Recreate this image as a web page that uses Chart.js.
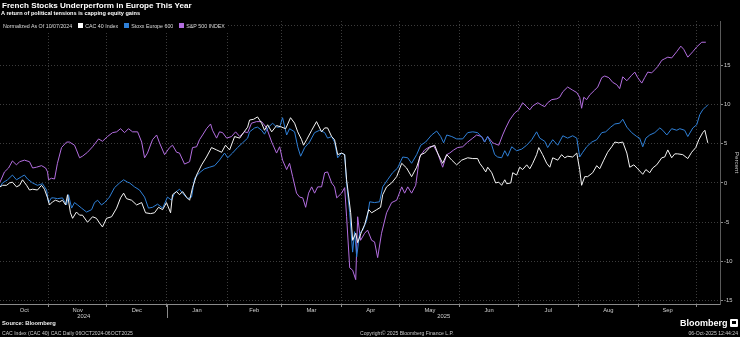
<!DOCTYPE html>
<html>
<head>
<meta charset="utf-8">
<script src="https://cdn.jsdelivr.net/npm/chart.js@4.4.1/dist/chart.umd.min.js"></script>
<style>
  body { margin: 0; background: #000; width: 740px; height: 337px; overflow: hidden; position: relative; color: #fff; font-family: "Liberation Sans", Arial, sans-serif; }
  #box { position: absolute; left: 0; top: 0; width: 740px; height: 337px; }
  .txt { position: absolute; white-space: nowrap; }
  #title { left: 2px; top: 1px; font-weight: bold; font-size: 8.1px; }
  #subtitle { left: 1px; top: 10px; font-weight: bold; font-size: 5.6px; }
  #legend { left: 0; top: 20px; height: 11px; padding: 0 3px; background: #000; font-size: 5.3px; color: #ddd; display: flex; align-items: center; }
  #legend .sw { display: inline-block; width: 5px; height: 5px; margin: 0 2px 0 6px; }
  #source { left: 2px; top: 320px; font-weight: bold; font-size: 5.8px; color: #eee; }
  #ticker { left: 2px; top: 330px; font-size: 5.1px; color: #ccc; }
  #copy { left: 360px; top: 330px; font-size: 5.1px; color: #ccc; }
  #stamp { right: 2px; top: 330px; font-size: 5.1px; color: #ccc; }
  #logo { left: 680px; top: 318px; font-weight: bold; font-size: 9px; }
  #logoMark { position: absolute; left: 730px; top: 319px; width: 8px; height: 8px; background: #fff; border-radius: 1px; }
  #logoMark i { position: absolute; left: 2px; top: 2px; width: 4px; height: 3px; background: #000; }
</style>
</head>
<body>
<div id="box"><canvas id="chartIndices" width="740" height="337"></canvas></div>
<div class="txt" id="title">French Stocks Underperform in Europe This Year</div>
<div class="txt" id="subtitle">A return of political tensions is capping equity gains</div>
<div class="txt" id="legend">
  <span>Normalized As Of 10/07/2024</span>
  <span class="sw" style="background:#ffffff"></span><span>CAC 40 Index</span>
  <span class="sw" style="background:#2f80d8"></span><span>Stoxx Europe 600</span>
  <span class="sw" style="background:#b36ee0"></span><span>S&amp;P 500 INDEX</span>
</div>
<div class="txt" id="source">Source: Bloomberg</div>
<div class="txt" id="ticker">CAC Index (CAC 40) CAC Daily 06OCT2024-06OCT2025</div>
<div class="txt" id="copy">Copyright© 2025 Bloomberg Finance L.P.</div>
<div class="txt" id="logo">Bloomberg</div>
<div id="logoMark"><i></i></div>
<div class="txt" id="stamp">06-Oct-2025 12:44:24</div>
<script>
// Days counted from 07 Oct 2024 (normalization date), values in percent
const cacDays = [0,1.3,3.4,4.9,6.4,8.5,10.1,11.6,13.7,15.2,16.8,19.3,21.4,22.9,24.5,25.5,27.1,28.6,30.7,32.2,33.8,34.8,36.3,37.4,39.4,41,42.5,45.1,47.7,49.7,51.3,52.8,54.9,57.5,60.1,62.1,63.7,65.2,67.8,70.4,73,75,77.6,79.6,81.7,83.8,85.8,87.9,88.9,91,92.5,94.1,96.1,97.7,99.2,101.3,103.9,106.4,109,111.6,114.2,116.2,118.3,120.9,123.5,125.5,127.6,128.6,130.7,132.7,134.8,136.3,137.9,140,142.5,145.1,147.2,149.7,151.8,153.4,155.4,156.4,158,160.6,163.1,165.7,167.3,168.8,170.9,172.4,174,176,177.6,178.6,180.7,181.7,183.3,184.3,186.3,187.9,190,191.5,194.1,196.1,197.2,199.2,201.8,204.4,207,209.5,212.1,214.7,216.8,218.8,221.4,224,225.5,228.1,230.2,232.8,235.3,237.9,241,243.6,246.1,247.2,248.7,250.3,251.3,253.4,255.4,257,258.5,260.1,261.1,263.2,264.2,266.2,267.8,269.3,271.4,273,274.5,276.5,277.6,279.6,281.7,283.3,284.8,287.4,289.4,291,292.5,295.1,297.2,298.7,299.7,301.3,302.8,305.4,307.5,309,311.1,313.1,315.2,316.8,318.8,320.9,323,324.5,326.6,328.6,331.2,332.8,334.8,336.3,338.4,341,342.5,344.1,346.1,347.7,349.2,351.8,354.4,356.4,358.5,360.1,362.1,363.2,364.7];
const cacPct = [-0.5,-0.3,-0.3,0,0.1,-0.5,-0.3,0.4,-0.3,-0.9,-0.8,-0.9,-0.3,-0.8,-1.9,-2.8,-2.4,-2.2,-2.4,-2.2,-2.8,-1.5,-3.8,-4.5,-3.7,-4.1,-4.1,-5,-4.3,-4.5,-5.1,-5.6,-4.5,-4.3,-3.2,-1.9,-1.3,-2,-2.2,-2.8,-2.5,-3.8,-3.9,-3.8,-3.1,-3.4,-2.5,-3.8,-1.5,-1.1,-1.5,-1.1,-1.8,-2.2,-0.6,1,2.3,3.3,4.5,4.2,3.9,4.8,4.2,5.9,5.7,6.4,7.1,8,8.1,8.4,7.6,6.7,7.4,6.5,7.3,7.1,6.9,8.3,7.6,6.5,5.5,4.8,5.5,6.7,7.8,6.5,7,7,5.9,5.5,3.6,3.8,3.6,0.4,-3.8,-7.3,-6.4,-7.6,-6.2,-5.3,-3.4,-3.8,-3.4,-3.1,-1.5,-0.5,0,0.8,2.5,1.9,0.8,2,3.6,3.8,4.5,4.8,3.8,2.5,3.6,2.9,2.3,2.9,3.2,3.1,3.1,2.5,2,1.4,2,1.3,0,0.1,-0.3,0.4,-0.1,0,1.3,1,2,1.7,2.3,1.8,2.5,3.6,4.5,3.6,2.5,2,3.2,2.9,3.6,3.2,3.4,3.3,3.8,1.7,-0.3,0.8,0.8,1.3,2.2,1.8,2.9,3.9,4.6,5.2,5.1,5.2,3.8,2,2.3,1.8,1.1,1.7,1.3,1.9,2.3,3.2,3.3,4.2,3.2,3.7,3.7,3.6,3.1,3.9,4.5,5.5,6.4,6.7,5.1];

const stoxxDays = [0,1.3,3.9,6.4,8.5,11.1,12.6,14.2,16.8,19.3,21.9,24,25,26.5,27.6,29.6,32.2,34.3,35.3,36.9,38.4,40,42,44.6,47.2,48.7,50.3,52.3,53.9,56.4,59,61.6,63.7,65.7,66.8,69.3,71.9,74.5,76.5,78.6,81.2,83.8,86.3,88.4,89.9,92.5,94.1,96.6,98.7,100.3,102.8,105.4,108,110.6,113.1,115.7,117.3,119.8,122.4,125,127.6,128.6,131.2,132.7,134.8,136.3,137.9,140.5,142.5,144.1,145.6,147.7,149.2,151.8,153.4,154.9,157,159.5,162.1,164.7,167.3,168.8,170.9,172.4,174,176,177.6,178.6,180.2,181.7,182.7,183.8,185.3,186.9,189,190.5,193,195.6,197.2,199.7,202.3,204.9,207.5,210.1,212.1,214.7,216.8,219.3,222.4,225,227.1,228.6,230.2,232.8,235.3,238.4,241,243.6,246.1,248.7,249.7,251.3,253.4,254.9,256.4,258.5,260.1,261.6,263.7,266.2,268.8,271.4,274,276.5,278.1,280.7,282.2,284.8,287.4,290,292.5,295.1,297.2,298.7,300.3,302.3,304.9,307.5,310.1,312.1,314.7,316.8,319.3,320.9,323,325.5,328.1,329.6,331.2,332.8,334.8,337.4,340,341.5,343.6,346.1,348.7,350.3,352.8,354.4,357,359,360.6,362.1,363.7,364.7];
const stoxxPct = [-0.5,0,0.4,1,0.4,0.8,1,0.5,0,-0.3,-0.1,-0.9,-2.5,-1.9,-1.9,-2,-1.9,-2.8,-1.5,-3.2,-2.5,-2.8,-3.2,-3.7,-3.4,-2.5,-2.2,-2.8,-2.5,-1.8,-0.6,0,0.4,0.1,0,-0.5,-0.9,-1.8,-3.2,-3.1,-2.7,-3.2,-1.8,-2.2,-1.3,-0.8,-1.3,-2,-1.8,0.6,1.3,1.8,2,2.2,2.9,3.8,3.2,3.8,4.5,5.1,5.7,6.5,7,7.1,6.7,6.2,7,7.6,7.1,7.1,8.3,6.1,6.9,6.5,4.6,3.4,4.5,5.2,6.4,6.7,6.4,5.7,5.9,5.2,3.2,3.8,3.6,0,-3.8,-8.8,-6.2,-9.4,-6.4,-6,-4.7,-2.4,-2.5,-2.4,-0.5,0.4,1.3,1.9,3.3,3.2,2.5,3.6,4.8,5.2,6.1,6.6,5.9,5.1,6.1,5.9,5.6,5.6,6.4,6.5,6.4,5.7,5.2,5.9,4.8,3.6,3.3,3.2,4.1,3.4,4.6,4.1,4.3,4.8,5.5,6.5,5.7,5.3,4.5,5.5,4.8,6,5.7,6,5.7,3.3,3.9,4.6,5.2,5.5,6.4,6.5,7.1,7.5,7.6,8.1,7.1,6.4,5.9,5.7,4.6,5.7,6.1,6.4,7,6.7,6.1,6.9,6.7,6.9,6.7,5.9,7,7.4,8.7,9.3,9.7,9.9];

const spxDays = [0,2.3,4.4,6.4,8.5,10.1,12.6,15.2,16.8,18.8,21.4,23.5,24.5,25,26.5,28.1,29.6,31.7,34.3,35.8,38.4,39.4,41,42.5,45.1,47.7,50.8,52.8,55.4,58,60.1,62.1,64.2,66.2,68.3,70.9,73,74.5,76,78.6,80.7,82.2,84.8,87.4,88.9,91,92.5,95.1,97.7,99.2,101.3,102.8,104.4,106.4,108.5,109.5,111.6,113.1,114.7,116.8,119.3,121.4,123.5,126,127.6,129.6,132.2,134.8,137.4,140,142.5,144.1,145.6,147.7,149.2,150.8,152.8,154.4,156,157.5,159,160.6,162.1,163.7,165.7,167.3,168.8,170.9,172.4,173.5,176,177.6,178.6,180.2,181.7,183.3,184.3,185.8,187.9,189.4,191.5,193,194.6,196.6,199.2,201.8,204.4,207,208.5,210.1,212.1,214.2,216.2,218.8,221.4,223.5,225.5,228.1,230.2,231.7,233.8,235.8,238.4,241,243.6,245.6,248.2,249.7,251.3,253.9,254.9,257,259,260.6,262.6,265.2,267.3,269.3,271.4,273,274.5,277.1,279.1,280.7,282.2,284.3,286.9,288.4,290,292.5,295.1,297.2,298.7,299.7,300.8,302.3,303.9,306.4,308,310.1,311.6,313.7,315.7,317.8,319.3,320.9,323,325.5,327.1,328.6,330.7,332.2,333.8,335.8,337.4,338.9,341,342.5,344.1,346.1,348.7,350.8,352.3,354.4,357,359,361.6,363.7];
const spxPct = [0.1,1.4,1.9,2.8,2.3,2.7,2.9,2.7,1.9,2,2.2,1.9,1.4,0.4,0.6,0.5,2.5,4.5,5.2,5.2,4.8,4.2,3.2,3.4,3.9,4.6,5.6,5.3,5.9,6.4,6.5,6.9,6.4,6.9,6.5,6.5,5.2,3.2,3.8,5.5,6.1,5.1,3.6,4.5,4.8,3.9,3.8,2.4,2.7,4.5,4.6,5.5,6.1,6.9,7.5,6.7,5.7,6.5,6.4,5.7,5.9,6.5,5.9,6.5,6.4,7.6,7.8,7.8,7,5.2,3.8,4.6,2.9,1.7,2.5,0.8,-1.3,-1.8,-1.9,-3.1,-1.3,-0.5,-1.3,-0.5,-0.5,1.3,1.4,0,-0.5,-1.9,-1.3,-0.6,-4.3,-10.8,-11.1,-12.3,-4.3,-7.3,-6.4,-6,-7.3,-7.5,-9.5,-6.4,-3.8,-2.5,-2.2,-0.5,-1.3,-0.5,-1.3,-0.3,3.3,4.2,4.6,4.7,3.8,2,3.6,3.8,4.2,4.5,4.6,5.2,5.7,6.1,5.9,5.2,5.9,5.1,5,4.8,6.1,7,8,8.9,9.3,10.2,9.7,9.3,9.8,10.2,9.9,9.7,10.2,10.6,10.7,10.9,11.6,12.2,11.8,11.5,10.9,9.5,10.9,10.6,11.2,11.8,12.2,13.4,13.6,13.4,12.8,12.5,12,13.5,13,13.7,14.1,13.4,12.7,13.4,14.1,14,14.4,14.8,15.6,15.8,16,15.9,16.7,17.4,17,16,16.7,17.3,17.9,17.9];

const monthNames = ['Oct','Nov','Dec','Jan','Feb','Mar','Apr','May','Jun','Jul','Aug','Sep'];
const yearNames = ['2024','2025'];
const yTicks = [-15,-10,-5,0,5,10,15,20];

const cacColor = '#f4f4f4';
const stoxxColor = '#2f80d8';
const spxColor = '#b36ee0';
const gridColor = '#3c3c3c';
const axisColor = '#8a8a8a';
const labelColor = '#cfcfcf';

// Day offset of a calendar date from the normalization date
const dayZero = Date.UTC(2024, 9, 7);
function dayOf(y, m, d)
{
    return (Date.UTC(y, m, d) - dayZero) / 86400000;
}

// Month boundaries carry the grid, month midpoints carry the labels
function buildMonthTicks()
{
    const ticks = [];
    for (let i = 0; i < monthNames.length; i++)
    {
        const from = Math.max(0, dayOf(2024, 9 + i, 1));
        const to = dayOf(2024, 10 + i, 1);
        ticks.push({value: (from + to) / 2, label: monthNames[i], boundary: false});
        ticks.push({value: to, label: '', boundary: true});
    }
    return ticks;
}
const monthTicks = buildMonthTicks();
const yearBreak = dayOf(2025, 0, 1);

function toPoints(days, vals)
{
    return days.map(function (d, i) { return {x: d, y: vals[i]}; });
}

// Solid x axis line, new-year divider and year captions
const yearPlugin = {
    id: 'yearLabels',
    afterDraw: function (chart)
    {
        const ctx = chart.ctx;
        const xs = chart.scales.x;
        const area = chart.chartArea;
        const xb = Math.round(xs.getPixelForValue(yearBreak)) + 0.5;
        const yb = Math.round(area.bottom) + 0.5;
        ctx.save();
        ctx.strokeStyle = axisColor;
        ctx.lineWidth = 1;
        ctx.beginPath();
        ctx.moveTo(area.left, yb);
        ctx.lineTo(area.right, yb);
        ctx.moveTo(xb, area.bottom);
        ctx.lineTo(xb, area.bottom + 14);
        ctx.stroke();
        ctx.fillStyle = labelColor;
        ctx.font = '5.8px "Liberation Sans"';
        ctx.textAlign = 'center';
        ctx.textBaseline = 'middle';
        ctx.fillText(yearNames[0], (area.left + xb) / 2, area.bottom + 12.5);
        ctx.fillText(yearNames[1], (xb + area.right) / 2, area.bottom + 12.5);
        ctx.restore();
    }
};

const chartIndices = new Chart(document.getElementById('chartIndices').getContext('2d'), {
    type: 'line',
    data: {
        datasets: [
            {label: 'CAC 40 Index', data: toPoints(cacDays, cacPct), borderColor: cacColor},
            {label: 'Stoxx Europe 600', data: toPoints(stoxxDays, stoxxPct), borderColor: stoxxColor},
            {label: 'S&P 500 INDEX', data: toPoints(spxDays, spxPct), borderColor: spxColor}
        ]
    },
    options: {
        responsive: false,
        animation: false,
        devicePixelRatio: 1,
        layout: {padding: {top: 21, left: 0, right: 0, bottom: 0}},
        elements: {
            point: {radius: 0},
            line: {borderWidth: 1, tension: 0}
        },
        plugins: {
            legend: {display: false},
            tooltip: {enabled: false}
        },
        scales: {
            x: {
                type: 'linear',
                min: 0,
                max: 371,
                afterBuildTicks: function (scale) { scale.ticks = monthTicks.map(function (t) { return Object.assign({}, t); }); },
                afterFit: function (scale) { scale.height = 33; },
                ticks: {
                    autoSkip: false,
                    maxRotation: 0,
                    padding: 0,
                    color: labelColor,
                    font: {family: 'Liberation Sans', size: 5.8},
                    callback: function (value, index) { return monthTicks[index] ? monthTicks[index].label : ''; }
                },
                grid: {
                    color: function (c) { return c.tick && c.tick.boundary ? gridColor : 'rgba(0,0,0,0)'; },
                    tickColor: function (c) { return c.tick && c.tick.boundary ? axisColor : 'rgba(0,0,0,0)'; },
                    tickLength: 3,
                    lineWidth: 1
                },
                border: {display: false, dash: [1, 2]}
            },
            y: {
                position: 'right',
                min: -15.4,
                max: 20.6,
                afterBuildTicks: function (scale) { scale.ticks = yTicks.map(function (v) { return {value: v}; }); },
                afterFit: function (scale) { scale.width = 20; },
                ticks: {
                    padding: 1,
                    color: labelColor,
                    font: {family: 'Liberation Sans', size: 5.8},
                    callback: function (value) { return value === 20 ? '' : value; }
                },
                grid: {
                    color: gridColor,
                    tickColor: function (c) { return c.tick && c.tick.value === 20 ? 'rgba(0,0,0,0)' : axisColor; },
                    tickLength: 3,
                    lineWidth: 1
                },
                border: {display: true, color: '#5a5a5a', width: 1, dash: [1, 2]},
                title: {
                    display: true,
                    text: 'Percent',
                    color: labelColor,
                    padding: 0,
                    font: {family: 'Liberation Sans', size: 6.2}
                }
            }
        }
    },
    plugins: [yearPlugin]
});
</script>
</body>
</html>
